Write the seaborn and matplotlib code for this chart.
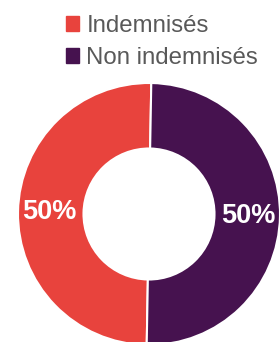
#!/usr/bin/env python3

# Import libraries
import matplotlib
matplotlib.use("Agg")
import matplotlib.pyplot as plt
import matplotlib.patches as mpatches
import seaborn as sns

# Data
categories = ["Indemnisés", "Non indemnisés"]
values = [50, 50]
colors = ["#E8433D", "#46124F"]

# Style
sns.set_theme(style="white")
plt.rcParams["font.family"] = ["Liberation Sans", "DejaVu Sans"]

fig = plt.figure(figsize=(2.79, 3.42), dpi=100)
fig.patch.set_facecolor("white")

# Axes placed so the donut sits like the reference (clipped on right/bottom)
ax = fig.add_axes([18 / 279, -3 / 342, 262 / 279, 262 / 342])
palette = sns.color_palette(colors)

wedges, texts, autotexts = ax.pie(
    values, colors=palette, startangle=89, counterclock=True,
    wedgeprops=dict(width=0.5, edgecolor="white", linewidth=1.5),
    autopct="%d%%", pctdistance=0.76,
    textprops=dict(color="white", fontsize=19.5, fontweight="bold"))
ax.set_xlim(-1, 1)
ax.set_ylim(-1, 1)
ax.set_aspect("equal")
for w in wedges:
    w.set_clip_on(False)

# Legend
handles = [mpatches.Patch(color=c, label=l) for c, l in zip(colors, categories)]
fig.legend(handles=handles, loc="upper left",
           bbox_to_anchor=(66 / 279, 1 - 15 / 342), frameon=False,
           fontsize=17.3, labelcolor="#595959", handlelength=0.55,
           handleheight=0.55, handletextpad=0.3, labelspacing=0.42,
           borderpad=0, borderaxespad=0)

# Save plot as png figure
plt.savefig("out.png", dpi=100)
